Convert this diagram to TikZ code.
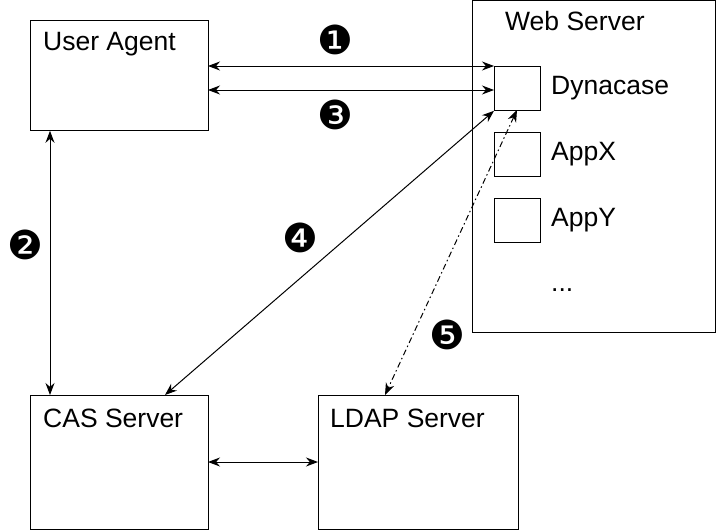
\documentclass[tikz,border=0pt]{standalone}
\usepackage{fontspec}
\setmainfont{Liberation Sans}
\newfontfamily\dingfont{DejaVu Sans}
\usetikzlibrary{arrows.meta}
\begin{document}
\begin{tikzpicture}[x=1pt,y=-1pt,
  box/.style={draw,line width=0.8pt,anchor=north west,inner sep=0pt},
  lbl/.style={font=\fontsize{26.5}{29}\selectfont,anchor=west,inner sep=0pt},
  num/.style={font=\dingfont\fontsize{40}{42}\selectfont,inner sep=0pt},
  arr/.style={{Stealth[length=12pt,width=9pt]}-{Stealth[length=12pt,width=9pt]},line width=1pt}]
\useasboundingbox (0,0) rectangle (716,530);
\node[box,minimum width=178pt,minimum height=110pt] (ua) at (30,20) {};
\node[lbl] (ual) at (43,44) {User Agent};
\node[box,minimum width=243pt,minimum height=332pt] (ws) at (472,0) {};
\node[lbl] (wsl) at (505,21) {Web Server};
\node[box,minimum width=46pt,minimum height=44pt] (dy) at (494,66) {};
\node[lbl] (dyl) at (551,88) {Dynacase};
\node[box,minimum width=46pt,minimum height=44pt] (ax) at (494,132) {};
\node[lbl] (axl) at (551,154) {AppX};
\node[box,minimum width=46pt,minimum height=44pt] (ay) at (494,198) {};
\node[lbl] (ayl) at (551,220) {AppY};
\node[lbl] (dots) at (551,290) {...};
\node[box,minimum width=178pt,minimum height=134pt] (cas) at (30,395) {};
\node[lbl] (casl) at (43,418) {CAS Server};
\node[box,minimum width=200pt,minimum height=134pt] (ldap) at (318,395) {};
\node[lbl] (ldapl) at (330,418) {LDAP Server};
\node[num] (n1) at (335,40) {❶};
\node[num] (n3) at (335,115) {❸};
\node[num] (n2) at (25,245) {❷};
\node[num] (n4) at (300,238) {❹};
\node[num] (n5) at (447,335) {❺};
\coordinate (a1) at (208,66); \coordinate (b1) at (494,66);
\coordinate (a3) at (208,90); \coordinate (b3) at (494,90);
\draw[arr] (a1) -- (b1);
\draw[arr] (a3) -- (b3);
\draw[arr] (ua.south west) ++(20,0) coordinate (u2) (u2) -- (u2 |- cas.north);
\draw[arr] (dy.south west) -- (165,395) coordinate (c4);
\draw[arr,dash pattern=on 6pt off 3pt on 1.5pt off 3pt] (517,110) coordinate (d5) -- (385,395);
\draw[arr] (208,462) coordinate (c6) -- (318,462);
\end{tikzpicture}
\end{document}
